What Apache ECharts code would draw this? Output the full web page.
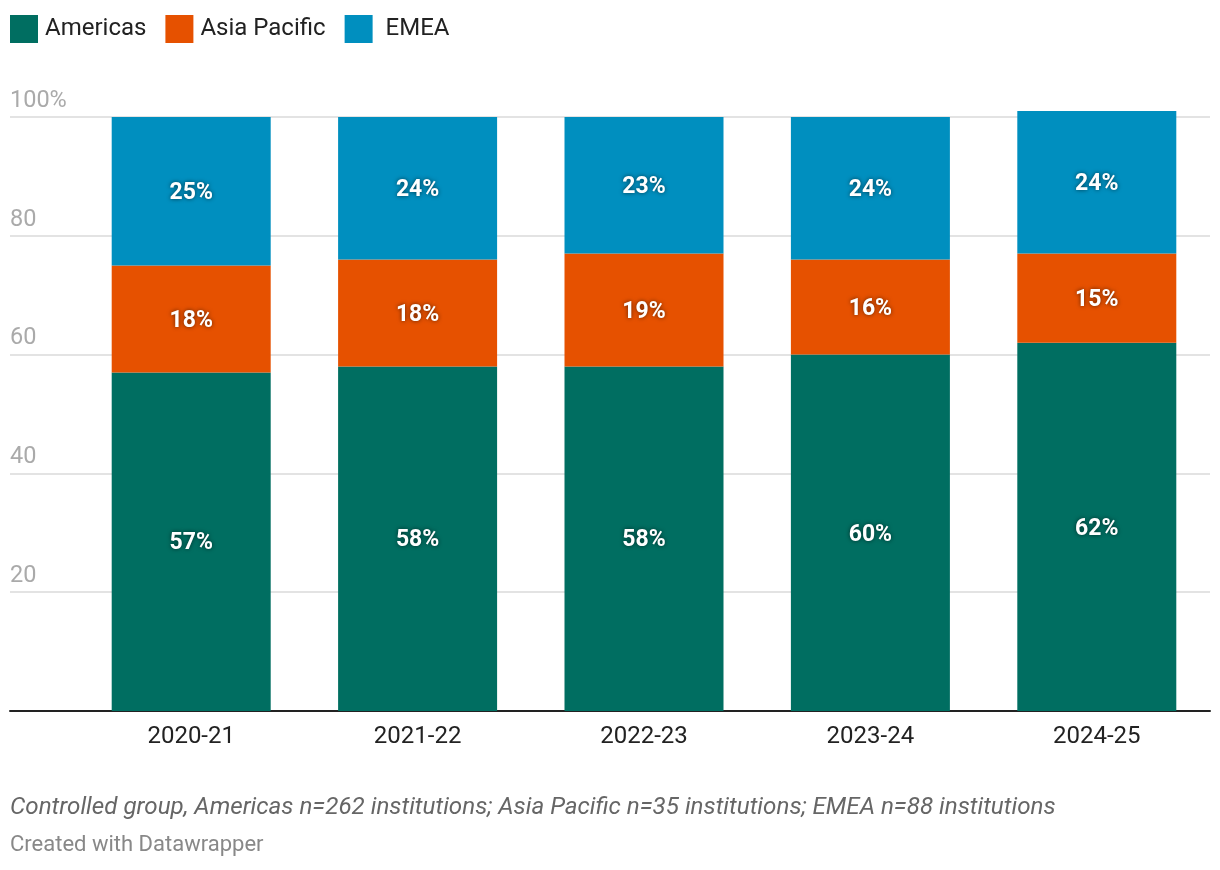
<!DOCTYPE html>
<html>
<head>
<meta charset="utf-8">
<script src="https://cdn.jsdelivr.net/npm/echarts@6/dist/echarts.min.js"></script>
<style>
html,body{margin:0;padding:0;background:#fff;}
#chart{width:1220px;height:870px;}
</style>
</head>
<body>
<div id="chart"></div>
<script>
const categories = ['2020-21', '2021-22', '2022-23', '2023-24', '2024-25'];
const americas = [57, 58, 58, 60, 62];
const asiaPacific = [18, 18, 19, 16, 15];
const emea = [25, 24, 23, 24, 24];
const seriesNames = ['Americas', 'Asia Pacific', 'EMEA'];
const colors = ['#006e61', '#e65100', '#008fbf'];
const footnote = 'Controlled group, Americas n=262 institutions; Asia Pacific n=35 institutions; EMEA n=88 institutions';
const credit = 'Created with Datawrapper';

const FONT = 'Roboto, "Noto Sans", sans-serif';
const chart = echarts.init(document.getElementById('chart'));

const labelStyle = {
  show: true,
  position: 'inside',
  formatter: '{c}%',
  color: '#fff',
  fontFamily: FONT,
  fontSize: 23,
  fontWeight: 'bold',
  textShadowColor: 'rgba(0,0,0,0.6)',
  textShadowBlur: 4,
  offset: [0, 2]
};

function barSeries(name, data, color) {
  return {
    name: name,
    type: 'bar',
    stack: 'total',
    xAxisIndex: 1,
    yAxisIndex: 1,
    data: data,
    barWidth: 159,
    clip: false,
    itemStyle: { color: color },
    label: labelStyle,
    emphasis: { disabled: true }
  };
}

chart.setOption({
  animation: false,
  color: colors,
  textStyle: { fontFamily: FONT },
  legend: {
    left: 10,
    top: 15,
    padding: 0,
    itemWidth: 28,
    itemHeight: 28,
    itemGap: 19,
    icon: 'rect',
    data: seriesNames,
    formatter: name => name === 'EMEA' ? ' ' + name : name,
    textStyle: { fontSize: 24, color: '#222', fontFamily: FONT, padding: [0, 0, 0, 2] }
  },
  grid: [
    { left: 10, right: 10, top: 117, bottom: 159 },
    { left: 78, right: 10, top: 117, bottom: 159 }
  ],
  xAxis: [
    {
      gridIndex: 0, type: 'value', min: 0, max: 1,
      axisLine: { show: true, onZero: false, lineStyle: { color: '#222', width: 2 } },
      axisTick: { show: false }, axisLabel: { show: false }, splitLine: { show: false }
    },
    {
      gridIndex: 1, type: 'category', data: categories,
      axisLine: { show: false }, axisTick: { show: false },
      axisLabel: { fontSize: 24, color: '#222', fontFamily: FONT, margin: 14 }
    }
  ],
  yAxis: [
    {
      gridIndex: 0, type: 'value', min: 0, max: 100, interval: 20,
      axisLine: { show: false }, axisTick: { show: false },
      axisLabel: {
        inside: true, margin: 0, verticalAlign: 'bottom',
        padding: [0, 0, 4, 0],
        fontSize: 23.5, color: '#aaa', fontFamily: FONT,
        formatter: v => v === 0 ? '' : (v === 100 ? '100%' : String(v))
      },
      splitLine: { lineStyle: { color: '#e3e3e3', width: 2 } }
    },
    {
      gridIndex: 1, type: 'value', min: 0, max: 100, show: false,
      splitLine: { show: false }
    }
  ],
  series: [
    barSeries(seriesNames[0], americas, colors[0]),
    barSeries(seriesNames[1], asiaPacific, colors[1]),
    barSeries(seriesNames[2], emea, colors[2])
  ],
  graphic: [
    {
      type: 'text', left: 10, top: 796,
      style: { text: footnote, fontFamily: FONT, fontSize: 24.2, fontStyle: 'italic', fill: '#666' }
    },
    {
      type: 'text', left: 10, top: 834,
      style: { text: credit, fontFamily: FONT, fontSize: 22, fill: '#888' }
    }
  ]
});
</script>
</body>
</html>
